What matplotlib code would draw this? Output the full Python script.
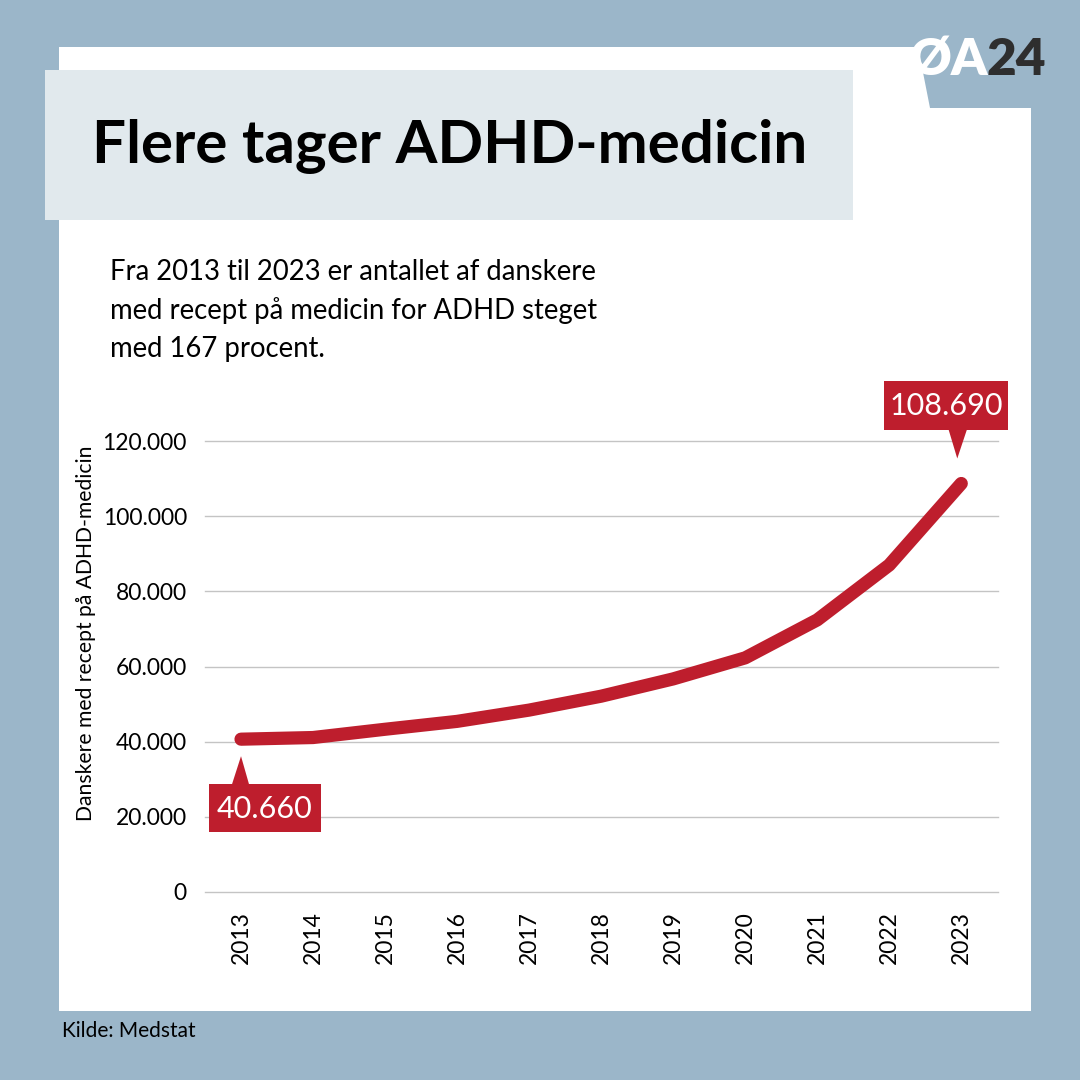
import matplotlib
matplotlib.use("Agg")
import matplotlib.pyplot as plt
import matplotlib.transforms as mtransforms
from matplotlib.patches import Polygon, Rectangle
from matplotlib.ticker import FuncFormatter

# data
years = [2013, 2014, 2015, 2016, 2017, 2018, 2019, 2020, 2021, 2022, 2023]
patients = [40660, 41100, 43300, 45400, 48400, 52100, 56700, 62300, 72400, 87000, 108690]
y_ticks = [0, 20000, 40000, 60000, 80000, 100000, 120000]

title = "Flere tager ADHD-medicin"
subtitle = ("Fra 2013 til 2023 er antallet af danskere\n"
            "med recept på medicin for ADHD steget\n"
            "med 167 procent.")
y_label = "Danskere med recept på ADHD-medicin"
source = "Kilde: Medstat"

BG = "#9BB6C9"
BOX = "#E1E9ED"
RED = "#BE1E2D"
GRID = "#C4C4C4"

plt.rcParams["font.family"] = ["Lato", "DejaVu Sans"]

W = H = 1080
fig = plt.figure(figsize=(10.8, 10.8), dpi=100, facecolor=BG)


def px(x, y):
    # pixel coords (origin top-left) -> figure fraction
    return (x / W, 1 - y / H)


# white panel with the notch for the logo
panel = [px(59, 47), px(918, 47), px(930, 108), px(1031, 108), px(1031, 1011), px(59, 1011)]
fig.patches.append(Polygon(panel, closed=True, facecolor="white", edgecolor="none",
                           transform=fig.transFigure, zorder=-2))

# title box
x0, y0 = px(45, 220)
x1, y1 = px(853, 70)
fig.patches.append(Rectangle((x0, y0), x1 - x0, y1 - y0, facecolor=BOX, edgecolor="none",
                             transform=fig.transFigure, zorder=-1))
fig.text(*px(92, 147), title, fontsize=43.3, fontweight="bold", color="black",
         va="center", ha="left")

fig.text(*px(110, 259), subtitle, fontsize=19.8, color="black", va="top", ha="left",
         linespacing=1.56)

# logo
fig.text(*px(1046, 60), "24", fontsize=37, fontweight="heavy", color="#2E2E2E",
         va="center", ha="right")
fig.text(*px(988, 60), "ØA", fontsize=37, fontweight="heavy", color="white",
         va="center", ha="right")

fig.text(*px(62, 1031), source, fontsize=15, color="black", va="center", ha="left")

# chart
ax = fig.add_axes([205 / W, 1 - 892 / H, (998 - 205) / W, (892 - 441) / H])
ax.set_facecolor("none")
ax.plot(years, patients, color=RED, lw=9.5, solid_capstyle="round",
        solid_joinstyle="round", zorder=3)

ax.set_xlim(2012.5, 2023.51)
ax.set_ylim(0, 120000)
ax.set_yticks(y_ticks)
ax.yaxis.set_major_formatter(FuncFormatter(lambda v, p: f"{int(v):,}".replace(",", ".")))
ax.set_xticks(years)
ax.set_xticklabels([str(y) for y in years], rotation=90)
ax.grid(axis="y", color=GRID, lw=1)
for gl in ax.get_ygridlines():
    gl.set_clip_on(False)
ax.set_axisbelow(True)
for s in ax.spines.values():
    s.set_visible(False)
ax.tick_params(axis="both", length=0, labelsize=16.5)
ax.tick_params(axis="y", pad=13)
ax.tick_params(axis="x", pad=14)
ax.set_ylabel(y_label, fontsize=15.2)
ax.yaxis.set_label_coords(-0.137, 0.574)


def callout(x, y, text, box, tri):
    # box and pointer in pixel offsets from the data point
    tr = mtransforms.ScaledTranslation(x, y, ax.transData)
    bx, by, bw, bh = box
    ax.add_patch(Rectangle((bx, by), bw, bh, transform=tr, facecolor=RED,
                           edgecolor="none", clip_on=False, zorder=4))
    ax.add_patch(Polygon(tri, closed=True, transform=tr, facecolor=RED,
                         edgecolor="none", clip_on=False, zorder=4))
    ax.text(bx + bw / 2, by + bh / 2 - 1, text, transform=tr, color="white",
            fontsize=22, ha="center", va="center", zorder=5)


def fmt(v):
    return f"{v:,}".replace(",", ".")


callout(years[-1], patients[-1], fmt(patients[-1]),
        (-77, 54, 124, 49), [(-13, 55), (6, 55), (-4, 25)])
callout(years[0], patients[0], fmt(patients[0]),
        (-32, -93, 112, 48), [(-9, -45), (8, -45), (0, -17)])

fig.savefig("out.png", dpi=100, facecolor=BG)
